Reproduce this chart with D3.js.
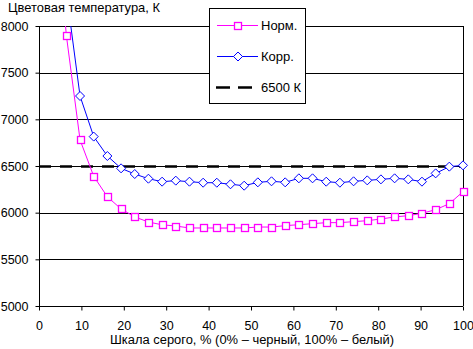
<!DOCTYPE html>
<html><head><meta charset="utf-8">
<script src="https://cdn.jsdelivr.net/npm/d3@7"></script>
<style>
html,body{margin:0;padding:0;background:#fff;}
svg{display:block;font-family:"Liberation Sans",Arial,sans-serif;}
</style></head>
<body>
<svg id="c" width="473" height="349"></svg>
<script>
// Data (x positions are grey-scale steps i*100/31, i = 1..31)
const steps = d3.range(1, 32);
const normValues = [9600, 7900, 6780, 6390, 6170, 6040, 5955, 5900, 5870, 5857, 5836, 5836, 5836, 5836, 5836, 5846, 5846, 5861, 5871, 5882, 5893, 5893, 5904, 5914, 5932, 5954, 5968, 5993, 6032, 6096, 6225];
const corrValues = [9800, 8360, 7250, 6815, 6607, 6475, 6414, 6364, 6332, 6343, 6332, 6321, 6321, 6304, 6289, 6325, 6336, 6325, 6368, 6368, 6332, 6321, 6336, 6346, 6357, 6368, 6357, 6332, 6421, 6493, 6507];
const refValue = 6500;
const xTicks = [0, 10, 20, 30, 40, 50, 60, 70, 80, 90, 100];
const yTicks = [5000, 5500, 6000, 6500, 7000, 7500, 8000];
const seriesNames = ["Норм.", "Корр.", "6500 К"];
const yTitle = "Цветовая температура, К";
const xTitle = "Шкала серого, % (0% – черный, 100% – белый)";

const svg = d3.select("#c");
const L = 39, R = 463, T = 26, B = 306;
const x = d3.scaleLinear().domain([0, 100]).range([L, R]);
const y = d3.scaleLinear().domain([5000, 8000]).range([B, T]);

const xs = steps.map(i => i * 100 / 31);
const norm = xs.map((v, k) => ({x: v, y: normValues[k]}));
const corr = xs.map((v, k) => ({x: v, y: corrValues[k]}));

// clip
svg.append("defs").append("clipPath").attr("id", "clip")
  .append("rect").attr("x", L).attr("y", T).attr("width", R - L).attr("height", B - T);

// gridlines
svg.append("g").selectAll("line").data(yTicks).join("line")
  .attr("x1", L).attr("x2", R)
  .attr("y1", d => Math.round(y(d)) + 0.5).attr("y2", d => Math.round(y(d)) + 0.5)
  .attr("stroke", "#000").attr("stroke-width", 1);
// right border
svg.append("line").attr("x1", R + 0.5).attr("x2", R + 0.5).attr("y1", T).attr("y2", B)
  .attr("stroke", "#000");

// axes
const yAxis = svg.append("g").attr("transform", `translate(${L + 0.5},0)`)
  .call(d3.axisLeft(y).tickValues(yTicks).tickSize(4).tickPadding(7).tickFormat(d3.format("d")));
const xAxis = svg.append("g").attr("transform", `translate(0,${B + 0.5})`)
  .call(d3.axisBottom(x).tickValues(xTicks).tickSize(4).tickPadding(11).tickFormat(d3.format("d")));
[yAxis, xAxis].forEach(a => {
  a.select(".domain").attr("stroke", "#000");
  a.selectAll(".tick line").attr("stroke", "#000");
  a.selectAll("text").attr("fill", "#000").attr("font-size", 12.5)
    .attr("font-family", "'Liberation Sans', Arial, sans-serif");
});
yAxis.select(".domain").attr("d", `M0,${T}V${B}`);
xAxis.select(".domain").attr("d", `M${L},0H${R}`);

// reference dashed line
svg.append("line").attr("x1", L).attr("x2", R)
  .attr("y1", y(refValue) + 0.5).attr("y2", y(refValue) + 0.5)
  .attr("stroke", "#000").attr("stroke-width", 2.5).attr("stroke-dasharray", "12,9");

const line = d3.line().x(d => x(d.x)).y(d => y(d.y));
const plot = svg.append("g").attr("clip-path", "url(#clip)");
plot.append("path").datum(norm).attr("d", line).attr("fill", "none").attr("stroke", "#ff00ff").attr("stroke-width", 1);
plot.append("path").datum(corr).attr("d", line).attr("fill", "none").attr("stroke", "#0000ff").attr("stroke-width", 1);

const inRange = d => d.y <= 8000 && d.y >= 5000;
const sq = 7;
svg.append("g").selectAll("rect").data(norm.filter(inRange)).join("rect")
  .attr("x", d => Math.round(x(d.x) - sq / 2) + 0.5).attr("y", d => Math.round(y(d.y) - sq / 2) + 0.5)
  .attr("width", sq).attr("height", sq)
  .attr("fill", "#fff").attr("stroke", "#ff00ff").attr("stroke-width", 1.3);
const dia = 4.5;
svg.append("g").selectAll("path").data(corr.filter(inRange)).join("path")
  .attr("transform", d => `translate(${x(d.x)},${y(d.y)})`)
  .attr("d", `M0,${-dia}L${dia},0L0,${dia}L${-dia},0Z`)
  .attr("fill", "#fff").attr("stroke", "#0000ff").attr("stroke-width", 1);

// titles
svg.append("text").attr("x", 8).attr("y", 12).attr("font-size", 13.5).attr("fill", "#000")
  .attr("textLength", 152).attr("lengthAdjust", "spacingAndGlyphs").text(yTitle);
svg.append("text").attr("x", 110).attr("y", 344).attr("font-size", 12.5).attr("fill", "#000")
  .attr("textLength", 284).attr("lengthAdjust", "spacingAndGlyphs").text(xTitle);

// legend
const lg = svg.append("g");
lg.append("rect").attr("x", 209.5).attr("y", 8.5).attr("width", 96).attr("height", 95)
  .attr("fill", "#fff").attr("stroke", "#000");
const rows = [25, 56, 87];
lg.append("line").attr("x1", 217).attr("x2", 258).attr("y1", rows[0] + 0.5).attr("y2", rows[0] + 0.5).attr("stroke", "#ff00ff");
lg.append("rect").attr("x", 234.5).attr("y", rows[0] - 3 + 0.5).attr("width", sq).attr("height", sq)
  .attr("fill", "#fff").attr("stroke", "#ff00ff").attr("stroke-width", 1.3);
lg.append("line").attr("x1", 217).attr("x2", 258).attr("y1", rows[1] + 0.5).attr("y2", rows[1] + 0.5).attr("stroke", "#0000ff");
lg.append("path").attr("transform", `translate(238,${rows[1] + 0.5})`)
  .attr("d", `M0,${-dia}L${dia},0L0,${dia}L${-dia},0Z`).attr("fill", "#fff").attr("stroke", "#0000ff");
lg.append("line").attr("x1", 216).attr("x2", 252).attr("y1", rows[2] + 0.5).attr("y2", rows[2] + 0.5)
  .attr("stroke", "#000").attr("stroke-width", 2.5).attr("stroke-dasharray", "14,8");
seriesNames.forEach((n, k) => {
  lg.append("text").attr("x", 261).attr("y", rows[k] + 5).attr("font-size", 13).attr("fill", "#000").text(n);
});
</script>
</body></html>
